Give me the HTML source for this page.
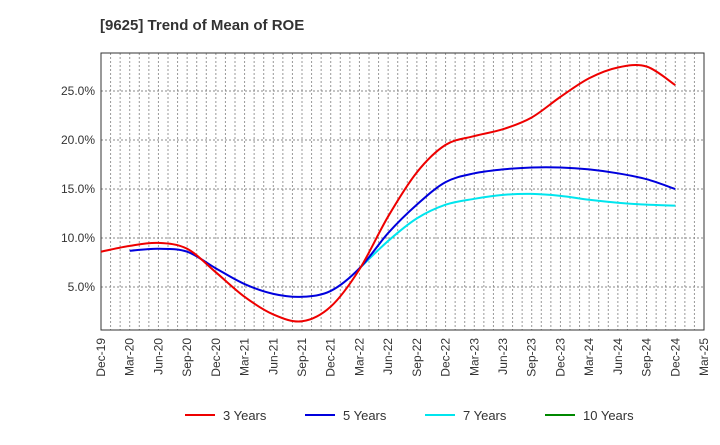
<!DOCTYPE html>
<html><head><meta charset="utf-8"><style>
body{margin:0;background:#fff;font-family:"Liberation Sans",sans-serif}
svg text{font-family:"Liberation Sans",sans-serif}
</style></head><body>
<svg id="c" width="720" height="440">
<text x="100" y="30" font-size="15" font-weight="bold" fill="#333">[9625]  Trend of Mean of ROE</text>
</svg>
<script>
const xLabels=["Dec-19","Mar-20","Jun-20","Sep-20","Dec-20","Mar-21","Jun-21","Sep-21","Dec-21","Mar-22","Jun-22","Sep-22","Dec-22","Mar-23","Jun-23","Sep-23","Dec-23","Mar-24","Jun-24","Sep-24","Dec-24","Mar-25"];
const yTicks=[5,10,15,20,25];
const s3=[8.6,9.2,9.5,8.9,6.5,4.0,2.2,1.5,3.0,6.8,12.2,16.7,19.5,20.4,21.1,22.3,24.4,26.3,27.4,27.5,25.6];
const s5=[null,8.7,8.9,8.6,6.9,5.3,4.3,4.0,4.6,6.9,10.5,13.4,15.7,16.6,17.0,17.2,17.2,17.0,16.6,16.0,15.0];
const s7=[null,null,null,null,null,null,null,null,null,6.9,9.7,12.0,13.4,14.0,14.4,14.5,14.3,13.9,13.6,13.4,13.3];
const s10=[];
const svg=document.getElementById('c'),NS="http://www.w3.org/2000/svg";
const L=101,R=704,T=53,B=330,step=(R-L)/21;
const X=i=>L+i*step, Y=v=>336-v*9.8;
function mk(t,a,p){const e=document.createElementNS(NS,t);for(const k in a)e.setAttribute(k,a[k]);(p||svg).appendChild(e);return e;}
const grid=mk('g',{});


for(let m=1;m<63;m++){const x=L+m*step/3;mk('line',{x1:x,x2:x,y1:T,y2:B,stroke:'#999','stroke-dasharray':'2,2','stroke-width':1},grid);}
yTicks.forEach(v=>{mk('line',{x1:L,x2:R,y1:Y(v),y2:Y(v),stroke:'#888','stroke-dasharray':'2,2'},grid);
const t=mk('text',{x:L-6,y:Y(v)+4,'text-anchor':'end','font-size':12,fill:'#333'});t.textContent=v.toFixed(1)+'%';

});
const fr=mk('rect',{x:L,y:T,width:R-L,height:B-T,fill:'none',stroke:'#333','stroke-width':1});


xLabels.forEach((l,i)=>{const x=X(i);const t=mk('text',{x:x+4,y:B+8,'text-anchor':'end','font-size':12,fill:'#333',transform:`rotate(-90 ${x+4} ${B+8})`});t.textContent=l;

});
function path(d){const p=d.map((v,i)=>v==null?null:[X(i),Y(v)]).filter(Boolean);if(!p.length)return '';let s=`M${p[0][0]},${p[0][1]}`;
for(let i=0;i<p.length-1;i++){const p0=p[i-1]||p[i],p1=p[i],p2=p[i+1],p3=p[i+2]||p2;
s+=`C${p1[0]+(p2[0]-p0[0])/6},${p1[1]+(p2[1]-p0[1])/6} ${p2[0]-(p3[0]-p1[0])/6},${p2[1]-(p3[1]-p1[1])/6} ${p2[0]},${p2[1]}`;}return s;}
const series=[[s7,'#00e5ee','series-7-years'],[s5,'#0000dd','series-5-years'],[s3,'#ee0000','series-3-years'],[s10,'#008800','series-10-years']];
series.forEach(([d,c,n])=>{const e=mk('path',{d:path(d),fill:'none',stroke:c,'stroke-width':2});

});
const leg=[['3 Years','#ee0000',185],['5 Years','#0000dd',305],['7 Years','#00e5ee',425],['10 Years','#008800',545]];
leg.forEach(([n,c,x])=>{const g=mk('g',{});


mk('line',{x1:x,x2:x+30,y1:415,y2:415,stroke:c,'stroke-width':2},g);
const t=mk('text',{x:x+38,y:420,'font-size':13,fill:'#333'},g);t.textContent=n;});
</script>
</body></html>
